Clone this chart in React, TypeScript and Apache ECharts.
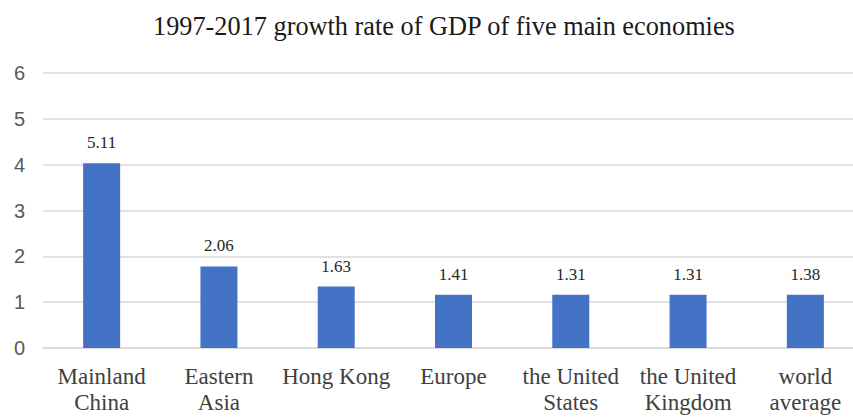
import React, { useEffect, useRef } from "react";
import * as echarts from "echarts";

const categories = [
  "Mainland\nChina",
  "Eastern\nAsia",
  "Hong Kong",
  "Europe",
  "the United\nStates",
  "the United\nKingdom",
  "world\naverage",
];
// Bar heights as drawn in the picture
const barHeights = [4.03, 1.78, 1.34, 1.16, 1.16, 1.16, 1.16];
// Values printed above the bars
const labelValues = ["5.11", "2.06", "1.63", "1.41", "1.31", "1.31", "1.38"];
const yTicks = { min: 0, max: 6, interval: 1 };
const title = "1997-2017 growth rate of GDP of five main economies";

export default function App() {
  const ref = useRef<HTMLDivElement>(null);
  useEffect(() => {
    if (!ref.current) return;
    const chart = echarts.init(ref.current, undefined, { renderer: "svg" });
    chart.setOption({
      animation: false,
      backgroundColor: "#ffffff",
      title: {
        text: title,
        left: 148,
        top: 8,
        textStyle: {
          fontFamily: "Liberation Serif",
          fontSize: 26.3,
          fontWeight: "normal",
          color: "#1a1a1a",
        },
      },
      grid: {
        left: 43,
        top: 73,
        width: 821,
        height: 275,
        containLabel: false,
        outerBoundsMode: "none",
      },
      xAxis: {
        type: "category",
        data: categories,
        axisLine: { show: true, lineStyle: { color: "#d9d9d9", width: 1.5 } },
        axisTick: { show: false },
        axisLabel: {
          interval: 0,
          margin: 15,
          fontFamily: "Liberation Serif",
          fontSize: 23,
          lineHeight: 26,
          color: "#404040",
        },
      },
      yAxis: {
        type: "value",
        min: yTicks.min,
        max: yTicks.max,
        interval: yTicks.interval,
        axisLine: { show: false },
        axisTick: { show: false },
        splitLine: { lineStyle: { color: "#d9d9d9", width: 1.5 } },
        axisLabel: {
          margin: 18,
          fontFamily: "Liberation Sans",
          fontSize: 20,
          color: "#595959",
        },
      },
      series: [
        {
          type: "bar",
          data: barHeights,
          barWidth: 37,
          itemStyle: { color: "#4472c4" },
          label: {
            show: true,
            position: "top",
            distance: 12,
            fontFamily: "Liberation Serif",
            fontSize: 17,
            color: "#262626",
            formatter: (p: any) => labelValues[p.dataIndex],
          },
        },
      ],
    });
    return () => chart.dispose();
  }, []);
  return (
    <div
      ref={ref}
      style={{ position: "fixed", left: 0, top: 0, width: 853, height: 417 }}
    />
  );
}
